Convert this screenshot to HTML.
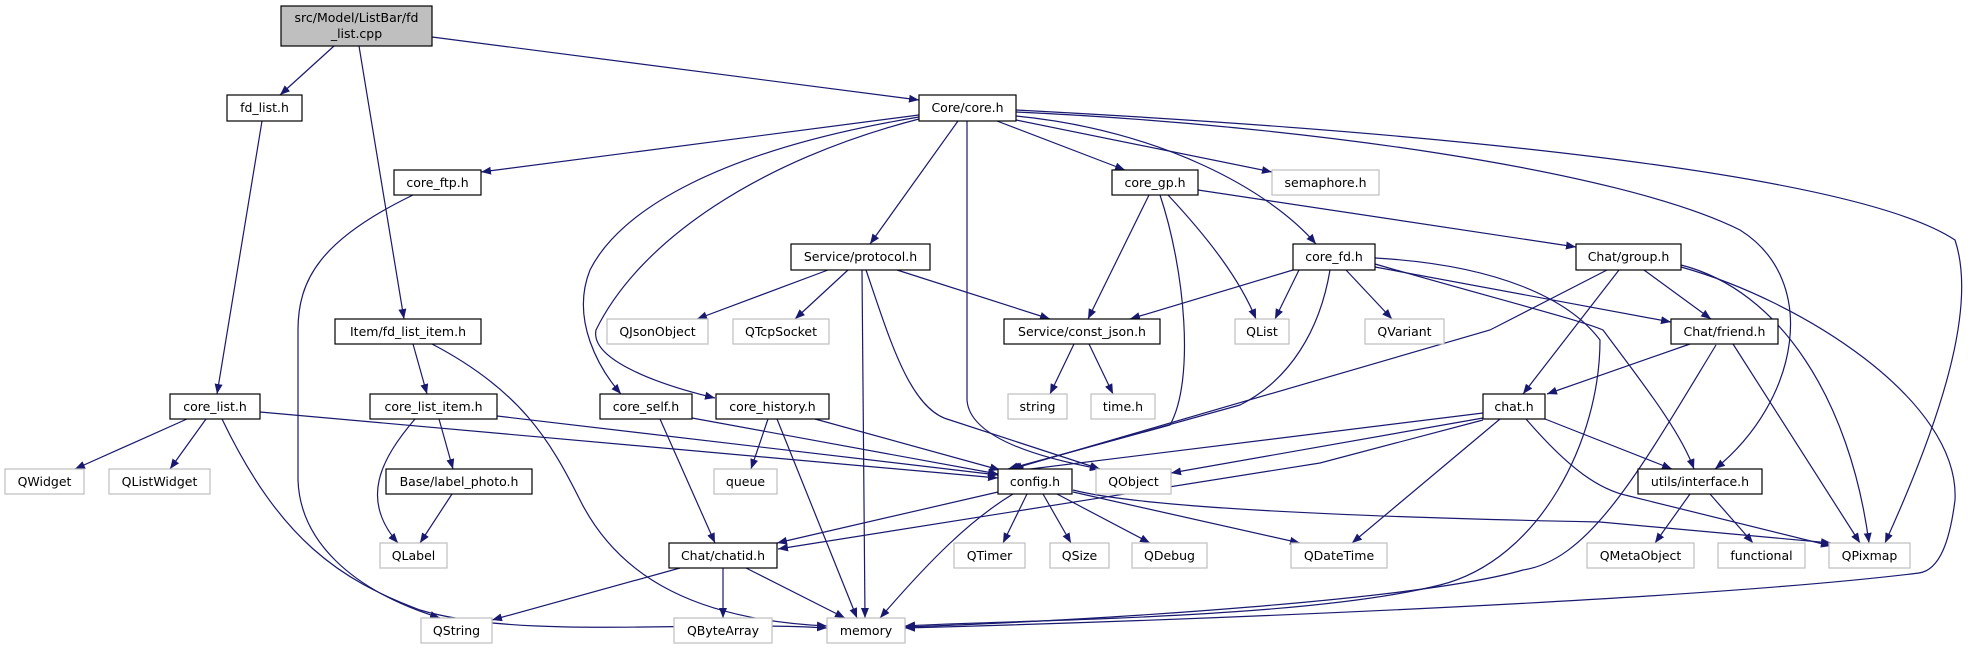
<!DOCTYPE html>
<html><head><meta charset="utf-8"><style>
html,body{margin:0;padding:0;background:#fff;}
svg{display:block;}
text{font-family:"DejaVu Sans","Liberation Sans",sans-serif;font-size:12.5px;fill:#000;}
.e{fill:none;stroke:#191970;stroke-width:1.2;}
.n{fill:#fff;stroke:#000;stroke-width:1.2;}
.x{fill:#fff;stroke:#bfbfbf;stroke-width:1.2;}
</style></head><body>
<svg width="1973" height="649" viewBox="0 0 1973 649" xmlns="http://www.w3.org/2000/svg">
<defs><marker id="a" markerWidth="11" markerHeight="9" refX="10" refY="4.5" orient="auto" markerUnits="userSpaceOnUse"><path d="M0,0.5 L10,4.5 L0,8.5z" fill="#191970"/></marker></defs>
<g class="e" marker-end="url(#a)">
<path d="M334,46 L280,95"/>
<path d="M359,46 L404,319"/>
<path d="M432,37 L919,100"/>
<path d="M262,121 L217,394"/>
<path d="M919,115 L481,172"/>
<path d="M919,117 C720,150 620,210 590,270 C570,320 600,370 621,394"/>
<path d="M919,119 C760,160 640,240 596,330 C590,360 660,385 715,398"/>
<path d="M958,121 L870,244"/>
<path d="M967,121 L967,400 Q970,445 1100,469"/>
<path d="M1016,120 L1272,172"/>
<path d="M997,121 L1125,170"/>
<path d="M1016,116 C1160,130 1270,190 1316,244"/>
<path d="M1016,112 C1300,125 1620,170 1740,230 C1820,280 1800,400 1715,469"/>
<path d="M1016,110 C1400,130 1850,170 1955,240 C1975,300 1950,400 1885,543"/>
<path d="M413,195 C320,240 298,280 298,330 L298,480 C300,540 350,590 440,618"/>
<path d="M413,344 L427,394"/>
<path d="M432,344 C520,390 550,440 580,500 C620,580 700,620 827,626"/>
<path d="M187,419 L75,469"/>
<path d="M206,419 L170,469"/>
<path d="M260,412 L998,478"/>
<path d="M222,419 C280,540 340,580 420,610 C520,640 700,620 827,628"/>
<path d="M415,419 C380,460 360,500 398,543"/>
<path d="M439,419 L453,469"/>
<path d="M497,416 L998,475"/>
<path d="M452,494 L420,543"/>
<path d="M680,568 L492,620"/>
<path d="M723,568 L723,618"/>
<path d="M746,568 L845,618"/>
<path d="M692,418 L998,474"/>
<path d="M660,419 L715,543"/>
<path d="M768,419 L751,469"/>
<path d="M777,419 L857,618"/>
<path d="M815,419 L1000,470"/>
<path d="M828,270 L697,319"/>
<path d="M848,270 L795,319"/>
<path d="M862,270 L865,618"/>
<path d="M866,270 C890,340 910,410 950,420 L1100,469"/>
<path d="M897,270 L1050,319"/>
<path d="M1074,344 L1050,394"/>
<path d="M1089,344 L1113,394"/>
<path d="M1149,195 L1088,319"/>
<path d="M1160,195 C1185,270 1195,380 1170,425 L1008,469"/>
<path d="M1168,195 C1210,240 1240,280 1256,319"/>
<path d="M1198,190 L1576,247"/>
<path d="M1293,270 L1130,319"/>
<path d="M1299,270 L1275,319"/>
<path d="M1346,270 L1392,319"/>
<path d="M1330,270 C1320,330 1290,380 1240,405 L1010,469"/>
<path d="M1375,258 C1500,265 1570,300 1600,340 C1600,440 1540,560 1440,585 C1300,620 1000,620 905,626"/>
<path d="M1375,267 L1671,322"/>
<path d="M1375,264 C1500,300 1580,320 1603,330 C1640,380 1680,430 1694,469"/>
<path d="M1607,270 L1490,330 L1012,469"/>
<path d="M1619,270 L1523,394"/>
<path d="M1644,270 L1711,319"/>
<path d="M1681,265 C1780,290 1850,400 1869,543"/>
<path d="M1681,267 C1800,300 1960,400 1955,500 C1950,540 1940,570 1919,573 C1700,600 1200,620 905,628"/>
<path d="M1690,344 L1547,394"/>
<path d="M1716,345 C1640,470 1590,560 1523,570 C1420,600 1100,620 905,627"/>
<path d="M1733,344 L1860,543"/>
<path d="M1483,413 L1014,471"/>
<path d="M1483,418 L1171,473"/>
<path d="M1483,420 L1320,463 L778,549"/>
<path d="M1500,419 L1352,543"/>
<path d="M1545,419 L1672,469"/>
<path d="M1526,419 C1570,470 1600,490 1629,496 L1831,546"/>
<path d="M998,492 L777,543"/>
<path d="M1013,494 C970,520 930,560 880,618"/>
<path d="M1027,494 L1003,543"/>
<path d="M1043,494 L1071,543"/>
<path d="M1057,494 L1150,543"/>
<path d="M1073,492 L1300,543"/>
<path d="M1073,490 C1150,510 1400,518 1600,522 L1831,543"/>
<path d="M1690,494 L1655,543"/>
<path d="M1710,494 L1753,543"/>
</g>
<rect x="281" y="6" width="151" height="40" fill="#bfbfbf" stroke="#000" stroke-width="1.2"/>
<text x="356.5" y="22" text-anchor="middle">src/Model/ListBar/fd</text>
<text x="356.5" y="38" text-anchor="middle">_list.cpp</text>
<g>
<rect class="n" x="227" y="95" width="75" height="26"/><text x="264.5" y="112" text-anchor="middle">fd_list.h</text>
<rect class="n" x="919" y="95" width="97" height="26"/><text x="967.5" y="112" text-anchor="middle">Core/core.h</text>
<rect class="n" x="394" y="170" width="87" height="25"/><text x="437.5" y="187" text-anchor="middle">core_ftp.h</text>
<rect class="n" x="1112" y="170" width="86" height="25"/><text x="1155" y="187" text-anchor="middle">core_gp.h</text>
<rect class="x" x="1272" y="170" width="107" height="25"/><text x="1325.5" y="187" text-anchor="middle">semaphore.h</text>
<rect class="n" x="791" y="244" width="139" height="26"/><text x="860.5" y="261" text-anchor="middle">Service/protocol.h</text>
<rect class="n" x="1293" y="244" width="82" height="26"/><text x="1334" y="261" text-anchor="middle">core_fd.h</text>
<rect class="n" x="1576" y="244" width="105" height="26"/><text x="1628.5" y="261" text-anchor="middle">Chat/group.h</text>
<rect class="n" x="335" y="319" width="146" height="25"/><text x="408" y="336" text-anchor="middle">Item/fd_list_item.h</text>
<rect class="x" x="607" y="319" width="101" height="25"/><text x="657.5" y="336" text-anchor="middle">QJsonObject</text>
<rect class="x" x="733" y="319" width="96" height="25"/><text x="781" y="336" text-anchor="middle">QTcpSocket</text>
<rect class="n" x="1004" y="319" width="156" height="25"/><text x="1082" y="336" text-anchor="middle">Service/const_json.h</text>
<rect class="x" x="1235" y="319" width="54" height="25"/><text x="1262" y="336" text-anchor="middle">QList</text>
<rect class="x" x="1365" y="319" width="79" height="25"/><text x="1404.5" y="336" text-anchor="middle">QVariant</text>
<rect class="n" x="1671" y="319" width="107" height="25"/><text x="1724.5" y="336" text-anchor="middle">Chat/friend.h</text>
<rect class="n" x="170" y="394" width="90" height="25"/><text x="215" y="411" text-anchor="middle">core_list.h</text>
<rect class="n" x="370" y="394" width="127" height="25"/><text x="433.5" y="411" text-anchor="middle">core_list_item.h</text>
<rect class="n" x="600" y="394" width="92" height="25"/><text x="646" y="411" text-anchor="middle">core_self.h</text>
<rect class="n" x="716" y="394" width="113" height="25"/><text x="772.5" y="411" text-anchor="middle">core_history.h</text>
<rect class="x" x="1008" y="394" width="59" height="25"/><text x="1037.5" y="411" text-anchor="middle">string</text>
<rect class="x" x="1091" y="394" width="64" height="25"/><text x="1123" y="411" text-anchor="middle">time.h</text>
<rect class="n" x="1483" y="394" width="62" height="25"/><text x="1514" y="411" text-anchor="middle">chat.h</text>
<rect class="x" x="5" y="469" width="79" height="25"/><text x="44.5" y="486" text-anchor="middle">QWidget</text>
<rect class="x" x="109" y="469" width="101" height="25"/><text x="159.5" y="486" text-anchor="middle">QListWidget</text>
<rect class="n" x="386" y="469" width="146" height="25"/><text x="459" y="486" text-anchor="middle">Base/label_photo.h</text>
<rect class="x" x="714" y="469" width="63" height="25"/><text x="745.5" y="486" text-anchor="middle">queue</text>
<rect class="n" x="998" y="469" width="74" height="25"/><text x="1035" y="486" text-anchor="middle">config.h</text>
<rect class="x" x="1096" y="469" width="75" height="25"/><text x="1133.5" y="486" text-anchor="middle">QObject</text>
<rect class="n" x="1638" y="469" width="124" height="25"/><text x="1700" y="486" text-anchor="middle">utils/interface.h</text>
<rect class="x" x="380" y="543" width="67" height="25"/><text x="413.5" y="560" text-anchor="middle">QLabel</text>
<rect class="n" x="669" y="543" width="108" height="25"/><text x="723" y="560" text-anchor="middle">Chat/chatid.h</text>
<rect class="x" x="954" y="543" width="71" height="25"/><text x="989.5" y="560" text-anchor="middle">QTimer</text>
<rect class="x" x="1050" y="543" width="59" height="25"/><text x="1079.5" y="560" text-anchor="middle">QSize</text>
<rect class="x" x="1132" y="543" width="75" height="25"/><text x="1169.5" y="560" text-anchor="middle">QDebug</text>
<rect class="x" x="1291" y="543" width="96" height="25"/><text x="1339" y="560" text-anchor="middle">QDateTime</text>
<rect class="x" x="1587" y="543" width="107" height="25"/><text x="1640.5" y="560" text-anchor="middle">QMetaObject</text>
<rect class="x" x="1718" y="543" width="87" height="25"/><text x="1761.5" y="560" text-anchor="middle">functional</text>
<rect class="x" x="1829" y="543" width="81" height="25"/><text x="1869.5" y="560" text-anchor="middle">QPixmap</text>
<rect class="x" x="421" y="618" width="71" height="25"/><text x="456.5" y="635" text-anchor="middle">QString</text>
<rect class="x" x="674" y="618" width="98" height="25"/><text x="723" y="635" text-anchor="middle">QByteArray</text>
<rect class="x" x="827" y="618" width="78" height="25"/><text x="866" y="635" text-anchor="middle">memory</text>
</g>
</svg>
</body></html>
